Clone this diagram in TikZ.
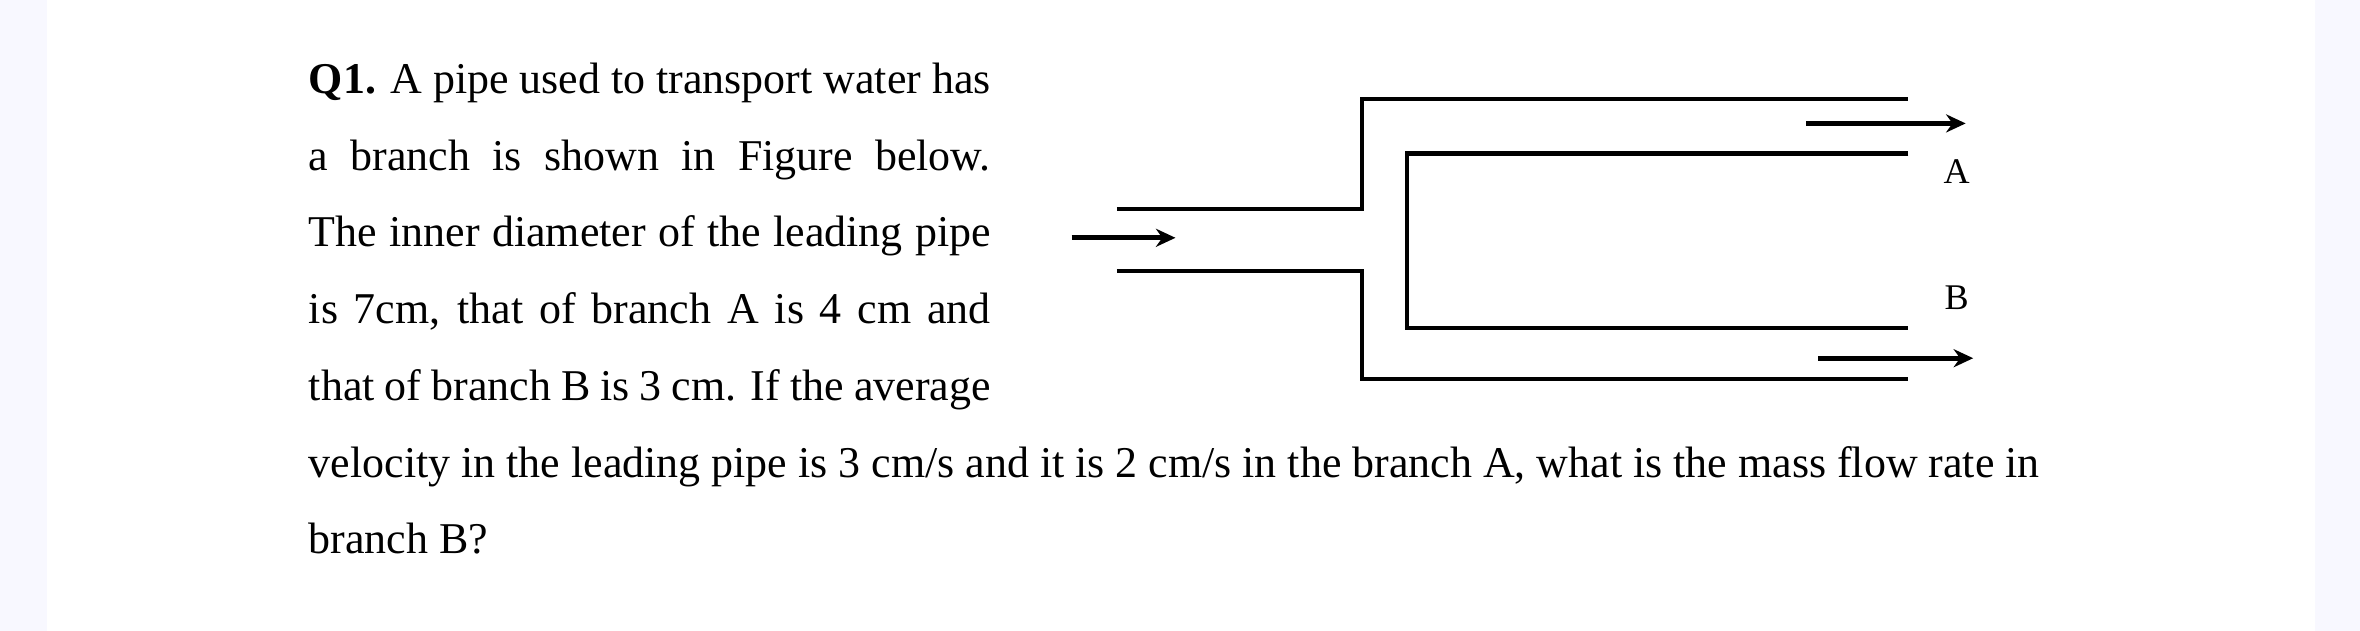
\documentclass[tikz,border=0pt]{standalone}
\usepackage{fontspec}
\setmainfont{Liberation Serif}
\usetikzlibrary{arrows.meta}
\begin{document}
\begin{tikzpicture}[x=1pt,y=-1pt,
  txt/.style={anchor=base west,inner sep=0,font=\fontsize{29.2}{34}\selectfont},
  pipe/.style={line width=2.8pt},
  flow/.style={line width=3.2pt,-{Stealth[length=13pt,width=12pt]}}]
\fill[gray!8!blue!3!white] (0,0) rectangle (1568,419);
\fill[white] (31,0) rectangle (1538,419);
\useasboundingbox (0,0) rectangle (1568,419);
\node[txt] (l1) at (205,62) {\makebox[453pt][s]{\textbf{Q1.} A pipe used to transport water has}};
\node[txt] (l2) at (205,113) {\makebox[453pt][s]{a branch is shown in Figure below.}};
\node[txt] (l3) at (205,164) {\makebox[453pt][s]{The inner diameter of the leading pipe}};
\node[txt] (l4) at (205,215) {\makebox[453pt][s]{is 7cm, that of branch A is 4 cm and}};
\node[txt] (l5) at (205,266) {\makebox[453pt][s]{that of branch B is 3 cm. If the average}};
\node[txt] (l6) at (205,317) {velocity in the leading pipe is 3 cm/s and it is 2 cm/s in the branch A, what is the mass flow rate in};
\node[txt] (l7) at (205,368) {branch B?};
% pipes
\coordinate (t0) at (742,139); \coordinate (t1) at (905,139); \coordinate (t2) at (905,66); \coordinate (t3) at (1268,66);
\coordinate (b0) at (742,180); \coordinate (b1) at (905,180); \coordinate (b2) at (905,252); \coordinate (b3) at (1268,252);
\coordinate (i0) at (1268,102); \coordinate (i1) at (935,102); \coordinate (i2) at (935,218); \coordinate (i3) at (1268,218);
\draw[pipe] (t0) -- (t1) -- (t2) -- (t3);
\draw[pipe] (b0) -- (b1) -- (b2) -- (b3);
\draw[pipe] (i0) -- (i1) -- (i2) -- (i3);
% arrows
\coordinate (e0) at (712,158); \coordinate (e1) at (781,158);
\coordinate (a0) at (1200,82); \coordinate (a1) at (1306,82);
\coordinate (f0) at (1208,238); \coordinate (f1) at (1311,238);
\draw[flow] (e0) -- (e1);
\draw[flow] (a0) -- (a1);
\draw[flow] (f0) -- (f1);
\node[font=\fontsize{24}{28}\selectfont,inner sep=0] (A) at (1300,114) {A};
\node[font=\fontsize{24}{28}\selectfont,inner sep=0] (B) at (1300,198) {B};
\end{tikzpicture}
\end{document}
